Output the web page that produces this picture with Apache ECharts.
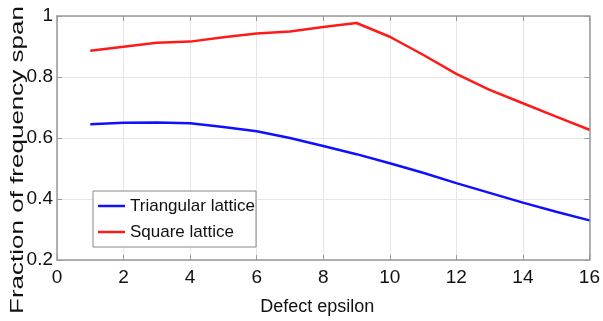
<!DOCTYPE html>
<html>
<head>
<meta charset="utf-8">
<script src="https://cdn.jsdelivr.net/npm/echarts@6/dist/echarts.min.js"></script>
<style>html,body{margin:0;padding:0;background:#fff;}#c{width:603px;height:321px;}</style>
</head>
<body>
<div id="c"></div>
<script>
const epsilon = [1, 2, 3, 4, 5, 6, 7, 8, 9, 10, 11, 12, 13, 14, 15, 16];
const triangular = [0.645, 0.650, 0.651, 0.648, 0.636, 0.622, 0.600, 0.574, 0.547, 0.517, 0.486, 0.452, 0.420, 0.388, 0.358, 0.330];
const square = [0.886, 0.899, 0.912, 0.916, 0.930, 0.943, 0.949, 0.964, 0.977, 0.932, 0.873, 0.810, 0.758, 0.714, 0.670, 0.627];
const seriesNames = ['Triangular lattice', 'Square lattice'];
const xTitle = 'Defect epsilon';
const yTitle = 'Fraction of frequency span';

const sans = '"Liberation Sans", Arial, sans-serif';
const frame = '#999999';
const chart = echarts.init(document.getElementById('c'));
const pairs = arr => epsilon.map((x, i) => [x, arr[i]]);
const yFmt = v => String(+v.toFixed(1));
chart.setOption({
  animation: false,
  grid: { left: 57, right: 12, top: 16, bottom: 60 },
  xAxis: [{
    type: 'value', min: 0, max: 16, interval: 2,
    axisLine: { show: true, onZero: false, lineStyle: { color: frame, width: 1.5 } },
    axisTick: { show: true, inside: true, length: 5, lineStyle: { color: frame } },
    splitLine: { show: true, lineStyle: { color: '#e6e6e6', width: 1 } },
    axisLabel: { color: '#111', fontFamily: sans, fontSize: 19, margin: 8 },
    name: xTitle, nameLocation: 'middle', nameGap: 38,
    nameTextStyle: { color: '#111', fontFamily: sans, fontSize: 18, padding: [0, 12, 0, 0] }
  }, {
    type: 'value', min: 0, max: 16, interval: 2, position: 'top',
    axisLine: { show: true, onZero: false, lineStyle: { color: frame, width: 1.5 } },
    axisTick: { show: true, inside: true, length: 5, lineStyle: { color: frame } },
    splitLine: { show: false }, axisLabel: { show: false }
  }],
  yAxis: [{
    type: 'value', min: 0.2, max: 1, interval: 0.2,
    axisLine: { show: true, onZero: false, lineStyle: { color: frame, width: 1.5 } },
    axisTick: { show: true, inside: true, length: 5, lineStyle: { color: frame } },
    splitLine: { show: true, lineStyle: { color: '#e6e6e6', width: 1 } },
    axisLabel: { color: '#111', fontFamily: sans, fontSize: 19, margin: 4, formatter: yFmt }
  }, {
    type: 'value', min: 0.2, max: 1, interval: 0.2, position: 'right',
    axisLine: { show: true, onZero: false, lineStyle: { color: frame, width: 1.5 } },
    axisTick: { show: true, inside: true, length: 5, lineStyle: { color: frame } },
    splitLine: { show: false }, axisLabel: { show: false }
  }],
  legend: {
    orient: 'vertical', left: 93, top: 191,
    padding: [2, 1, 2, 5], itemGap: 0,
    icon: 'rect', itemWidth: 27, itemHeight: 2.5,
    borderColor: '#888', borderWidth: 1, backgroundColor: '#fff',
    textStyle: { color: '#111', fontFamily: sans, fontSize: 17, lineHeight: 26 },
    data: seriesNames
  },
  graphic: [{
    type: 'text', x: 18, y: 160, rotation: Math.PI / 2, scaleY: 0.7,
    style: { text: yTitle, font: '26px "Liberation Sans", Arial, sans-serif', fill: '#111',
      align: 'center', verticalAlign: 'middle' }
  }],
  series: [{
    name: seriesNames[0], type: 'line', data: pairs(triangular), symbol: 'none',
    lineStyle: { color: '#1010ff', width: 2.5 }, itemStyle: { color: '#1010ff' }
  }, {
    name: seriesNames[1], type: 'line', data: pairs(square), symbol: 'none',
    lineStyle: { color: '#ff1a1a', width: 2.5 }, itemStyle: { color: '#ff1a1a' }
  }]
});
</script>
</body>
</html>
